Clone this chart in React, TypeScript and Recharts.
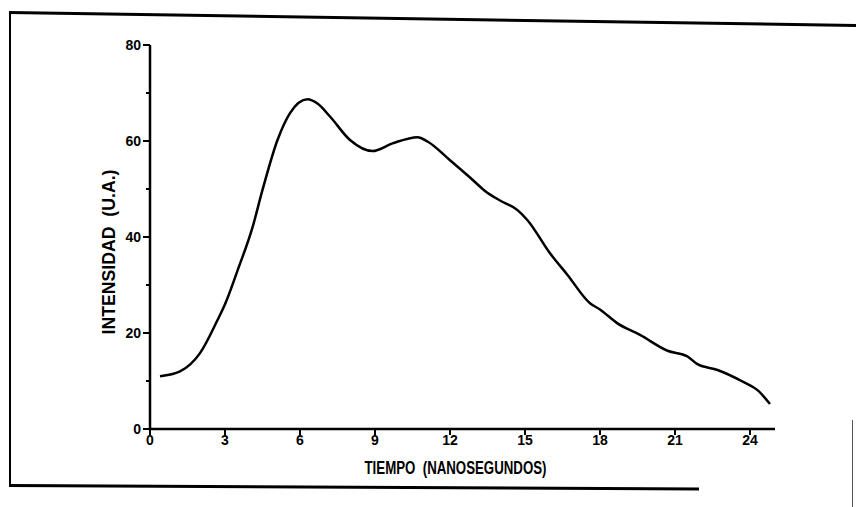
import React from 'react';
import { LineChart, Line, XAxis, YAxis } from 'recharts';

const tiempo = [0.4, 1.2, 2.0, 2.7, 3.0, 3.5, 4.1, 4.5, 5.1, 5.6, 6.3, 6.7, 7.2, 8.0, 8.9, 9.7, 10.7, 11.1, 12.0, 12.8, 13.4, 14.0, 14.7, 15.1, 16.0, 16.7, 17.6, 18.0, 18.7, 19.6, 20.7, 21.5, 21.9, 22.7, 23.7, 24.3, 24.8];
const intensidad = [11, 12, 15.8, 22.7, 26, 33, 42, 49.8, 60.2, 65.8, 68.7, 67.8, 65.1, 60.2, 57.9, 59.5, 60.8, 59.9, 56, 52.4, 49.6, 47.6, 45.6, 43.5, 36.6, 32.1, 26.2, 24.9, 22, 19.6, 16.3, 15.1, 13.5, 12.3, 9.9, 8.1, 5.2];
const xTicks = [0, 3, 6, 9, 12, 15, 18, 21, 24];
const yTicks = [0, 10, 20, 30, 40, 50, 60, 70, 80];
const yMajor = [0, 20, 40, 60, 80];
const xTitle = 'TIEMPO  (NANOSEGUNDOS)';
const yTitle = 'INTENSIDAD  (U.A.)';

const data = tiempo.map((t, i) => ({ t, v: intensidad[i] }));

const FONT = "'Liberation Sans', Arial, sans-serif";
const Y_TICK_SIZE = 6;
const Y_TICK_MARGIN = 3;

const YTick = (props: any) => {
  const { x, y, payload } = props;
  const axisX = x + Y_TICK_SIZE + Y_TICK_MARGIN;
  const major = yMajor.includes(payload.value);
  return (
    <g>
      <line x1={axisX - (major ? 7 : 4)} x2={axisX} y1={y} y2={y} stroke="#000" strokeWidth={2} />
      {major && (
        <text x={x} y={y} dy="0.35em" textAnchor="end" fontFamily={FONT} fontWeight="bold" fontSize={14} fill="#000">
          {payload.value}
        </text>
      )}
    </g>
  );
};

const XTitle = (props: any) => {
  const vb = props.viewBox;
  return (
    <text x={vb.x + vb.width / 2 - 7} y={vb.y + 45} textAnchor="middle" textLength={182} lengthAdjust="spacingAndGlyphs" style={{ whiteSpace: 'pre' }} fontFamily={FONT} fontWeight="bold" fontSize={19} fill="#000">
      {xTitle}
    </text>
  );
};

const YTitle = (props: any) => {
  const vb = props.viewBox;
  const cx = vb.x + 18;
  const cy = vb.y + vb.height / 2 + 15;
  return (
    <text x={cx} y={cy} transform={`rotate(-90, ${cx}, ${cy})`} textAnchor="middle" dominantBaseline="central" textLength={165} lengthAdjust="spacingAndGlyphs" style={{ whiteSpace: 'pre' }} fontFamily={FONT} fontWeight="bold" fontSize={19} fill="#000">
      {yTitle}
    </text>
  );
};

export default function App() {
  return (
    <div style={{ position: 'absolute', top: 0, left: 0, width: 856, height: 507, background: '#fff', overflow: 'hidden' }}>
      <div style={{ position: 'absolute', left: 9, top: 11, width: 860, height: 3, background: '#000', transform: 'rotate(0.88deg)', transformOrigin: '0 0' }} />
      <div style={{ position: 'absolute', left: 9, top: 12, width: 2, height: 474, background: '#000' }} />
      <div style={{ position: 'absolute', left: 9, top: 484, width: 690, height: 3, background: '#000', transform: 'rotate(0.3deg)', transformOrigin: '0 0' }} />
      <div style={{ position: 'absolute', left: 852, top: 420, width: 1, height: 87, background: '#555' }} />
      <div style={{ position: 'absolute', left: 0, top: 0 }}>
        <LineChart width={856} height={507} data={data} margin={{ top: 45, right: 81, bottom: 0, left: 90 }}>
          <XAxis
            dataKey="t"
            type="number"
            domain={[0, 25]}
            ticks={xTicks}
            interval={0}
            axisLine={{ stroke: '#000', strokeWidth: 2.5 }}
            tickLine={{ stroke: '#000', strokeWidth: 2 }}
            tickSize={6}
            tickMargin={0}
            height={78}
            tick={{ fill: '#000', fontFamily: FONT, fontWeight: 'bold', fontSize: 14 }}
            label={<XTitle />}
          />
          <YAxis
            type="number"
            domain={[0, 80]}
            ticks={yTicks}
            interval={0}
            width={60}
            axisLine={{ stroke: '#000', strokeWidth: 2.5 }}
            tickLine={false}
            tickSize={Y_TICK_SIZE}
            tickMargin={Y_TICK_MARGIN}
            tick={<YTick />}
            label={<YTitle />}
          />
          <Line
            type="monotone"
            dataKey="v"
            stroke="#000"
            strokeWidth={2.5}
            dot={false}
            isAnimationActive={false}
          />
        </LineChart>
      </div>
    </div>
  );
}
